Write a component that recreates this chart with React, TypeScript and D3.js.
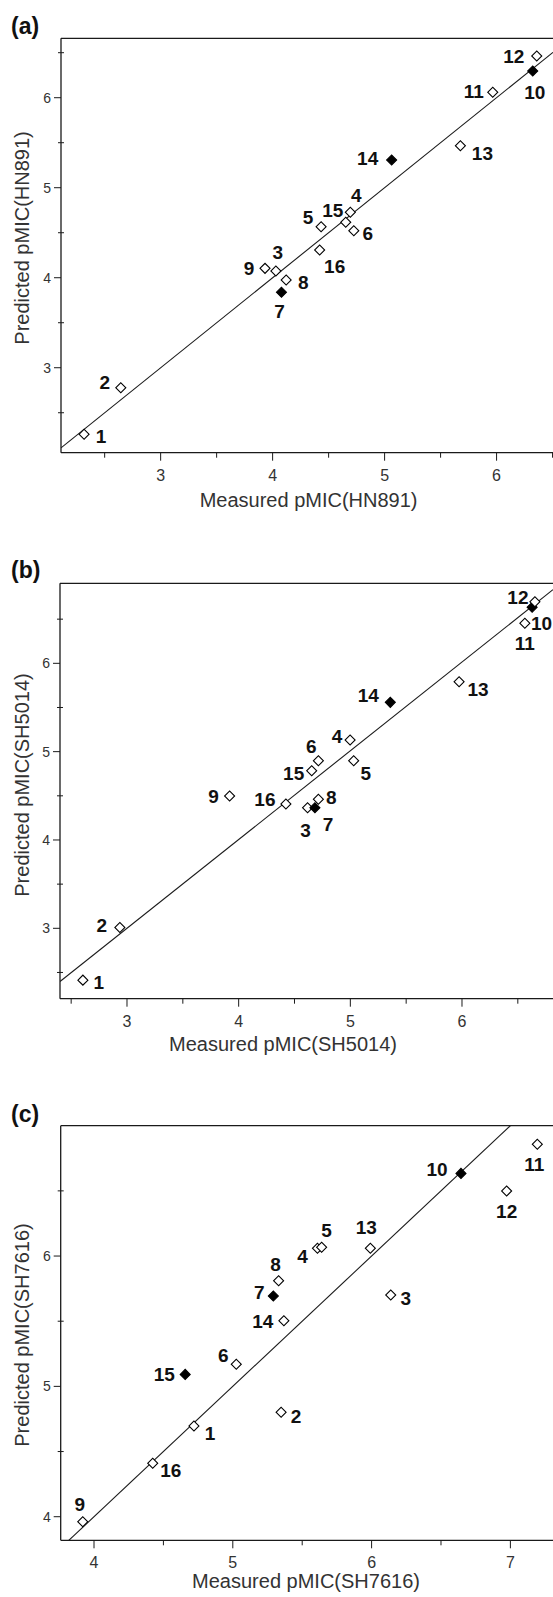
import React from "react";
import * as d3 from "d3";

// ---------- data ----------
const compounds = [1, 2, 3, 4, 5, 6, 7, 8, 9, 10, 11, 12, 13, 14, 15, 16];

// Panel (a) HN891
const measuredHN891 = [2.316, 2.644, 4.029, 4.694, 4.433, 4.725, 4.079, 4.121, 3.932, 6.323, 5.966, 6.359, 5.677, 5.063, 4.653, 4.42];
const predictedHN891 = [2.26, 2.778, 4.074, 4.727, 4.567, 4.522, 3.838, 3.974, 4.104, 6.297, 6.06, 6.463, 5.467, 5.308, 4.616, 4.308];
const testSetHN891 = [7, 10, 14];

// Panel (b) SH5014
const measuredSH5014 = [2.605, 2.936, 4.617, 4.998, 5.03, 4.714, 4.683, 4.714, 3.919, 6.628, 6.563, 6.653, 5.974, 5.358, 4.654, 4.423];
const predictedSH5014 = [2.413, 3.01, 4.365, 5.131, 4.897, 4.897, 4.365, 4.46, 4.497, 6.634, 6.453, 6.698, 5.792, 5.558, 4.784, 4.407];
const testSetSH5014 = [7, 10, 14];

// Panel (c) SH7616
const measuredSH7616 = [4.72, 5.348, 6.138, 5.61, 5.64, 5.025, 5.292, 5.33, 3.919, 6.644, 7.194, 6.973, 5.991, 5.368, 4.657, 4.423];
const predictedSH7616 = [4.696, 4.801, 5.701, 6.059, 6.067, 5.169, 5.693, 5.811, 3.962, 6.634, 6.857, 6.499, 6.059, 5.504, 5.092, 4.41];
const testSetSH7616 = [7, 10, 15];

// regression lines: [slope, intercept]
const fitHN891 = [1.0, 0.0];
const fitSH5014 = [1.005, -0.015];
const fitSH7616 = [1.0, 0.0];

// ticks
const majorTicksA = [3, 4, 5, 6];
const minorTicksA = [2.5, 3.5, 4.5, 5.5, 6.5];
const majorTicksCX = [4, 5, 6, 7];
const minorTicksCX = [4.5, 5.5, 6.5];
const majorTicksCY = [4, 5, 6];
const minorTicksCY = [4.5, 5.5, 6.5];

// ---------- layout (not data) ----------
const labelOffsetsA = [[17, 2], [-16, -6], [2, -19], [6, -17], [-13, -10], [14, 2], [-2, 19], [17, 2], [-16, 0], [2, 21], [-19, -1], [-23, 0], [22, 7], [-24, -2], [-13, -12], [15, 16]];
const labelOffsetsB = [[16, 2], [-18, -2], [-2, 22], [-13, -4], [12, 12], [-7, -15], [13, 16], [13, -2], [-16, 0], [9.5, 16], [0, 20], [-17, -5], [19, 7], [-22, -7], [-18, 2], [-21, -5]];
const labelOffsetsC = [[16, 7], [15, 4], [15, 3], [-15, 8], [5, -17], [-13, -9], [-14, -4], [-3, -17], [-3, -18], [-24, -4], [-3, 20], [0, 20], [-4, -21], [-21, 0], [-21, 0], [18, 7]];

const W = 553;
const H = 1597;
const FONT = "'Liberation Sans', Arial, Helvetica, sans-serif";

type PanelCfg = {
  id: string;
  tag: string;
  xTitle: string;
  yTitle: string;
  xDomain: [number, number];
  yDomain: [number, number];
  left: number;
  right: number;
  top: number;
  bottom: number;
  measured: number[];
  predicted: number[];
  testSet: number[];
  fit: number[];
  offsets: number[][];
  xMajor: number[];
  xMinor: number[];
  yMajor: number[];
  yMinor: number[];
  xTitleX: number;
  xTitleY: number;
  yTitleY: number;
  tagY: number;
};

const panels: PanelCfg[] = [
  {
    id: "a", tag: "(a)", xTitle: "Measured pMIC(HN891)", yTitle: "Predicted pMIC(HN891)",
    xDomain: [2.11, 6.504], yDomain: [2.056, 6.66], left: 61, right: 553, top: 38.3, bottom: 452.7,
    measured: measuredHN891, predicted: predictedHN891, testSet: testSetHN891, fit: fitHN891, offsets: labelOffsetsA,
    xMajor: majorTicksA, xMinor: minorTicksA, yMajor: majorTicksA, yMinor: minorTicksA,
    xTitleX: 308.6, xTitleY: 506.5, yTitleY: 238, tagY: 34,
  },
  {
    id: "b", tag: "(b)", xTitle: "Measured pMIC(SH5014)", yTitle: "Predicted pMIC(SH5014)",
    xDomain: [2.4, 6.815], yDomain: [2.203, 6.906], left: 60, right: 553, top: 583.3, bottom: 998.7,
    measured: measuredSH5014, predicted: predictedSH5014, testSet: testSetSH5014, fit: fitSH5014, offsets: labelOffsetsB,
    xMajor: majorTicksA, xMinor: minorTicksA, yMajor: majorTicksA, yMinor: minorTicksA,
    xTitleX: 283, xTitleY: 1051, yTitleY: 785, tagY: 578,
  },
  {
    id: "c", tag: "(c)", xTitle: "Measured pMIC(SH7616)", yTitle: "Predicted pMIC(SH7616)",
    xDomain: [3.76, 7.307], yDomain: [3.819, 7.0], left: 60.7, right: 553, top: 1125.7, bottom: 1540.3,
    measured: measuredSH7616, predicted: predictedSH7616, testSet: testSetSH7616, fit: fitSH7616, offsets: labelOffsetsC,
    xMajor: majorTicksCX, xMinor: minorTicksCX, yMajor: majorTicksCY, yMinor: minorTicksCY,
    xTitleX: 306, xTitleY: 1588, yTitleY: 1335, tagY: 1122,
  },
];

const diamond = d3.symbol().type(d3.symbolSquare).size(50)() as string;

function Panel({ p }: { p: PanelCfg }) {
  const x = d3.scaleLinear().domain(p.xDomain).range([p.left, p.right]);
  const y = d3.scaleLinear().domain(p.yDomain).range([p.bottom, p.top]);
  const lineGen = d3.line<number>().x((v) => x(v)).y((v) => y(p.fit[0] * v + p.fit[1]));
  const clipId = `clip-${p.id}`;
  const stroke = "#1a1a1a";
  return (
    <g>
      <defs>
        <clipPath id={clipId}>
          <rect x={p.left} y={p.top} width={p.right - p.left} height={p.bottom - p.top} />
        </clipPath>
      </defs>
      {/* frame: top & left & bottom */}
      <line x1={p.left} x2={W} y1={p.top} y2={p.top} stroke={stroke} strokeWidth={1.3} />
      <line x1={p.left} x2={p.left} y1={p.top} y2={p.bottom} stroke={stroke} strokeWidth={1.3} />
      <line x1={p.left} x2={W} y1={p.bottom} y2={p.bottom} stroke={stroke} strokeWidth={1.3} />
      {/* x ticks */}
      {p.xMajor.map((t) => (
        <g key={`xM${t}`}>
          <line x1={x(t)} x2={x(t)} y1={p.bottom} y2={p.bottom + 8} stroke={stroke} strokeWidth={1} />
          <text x={x(t)} y={p.bottom + 28} textAnchor="middle" fontSize={16} fill="#333" fontFamily={FONT}>{t}</text>
        </g>
      ))}
      {p.xMinor.map((t) => (
        <line key={`xm${t}`} x1={x(t)} x2={x(t)} y1={p.bottom} y2={p.bottom + 5} stroke={stroke} strokeWidth={1} />
      ))}
      {/* y ticks */}
      {p.yMajor.map((t) => (
        <g key={`yM${t}`}>
          <line x1={p.left - 7} x2={p.left} y1={y(t)} y2={y(t)} stroke={stroke} strokeWidth={1} />
          <text x={p.left - 10} y={y(t)} dy="0.36em" textAnchor="end" fontSize={14} fill="#333" fontFamily={FONT}>{t}</text>
        </g>
      ))}
      {p.yMinor.map((t) => (
        <line key={`ym${t}`} x1={p.left - 3} x2={p.left + 3} y1={y(t)} y2={y(t)} stroke={stroke} strokeWidth={1} />
      ))}
      {/* regression line */}
      <path d={lineGen(p.xDomain) as string} fill="none" stroke={stroke} strokeWidth={1.1} clipPath={`url(#${clipId})`} />
      {/* points */}
      {compounds.map((c, i) => {
        const filled = p.testSet.includes(c);
        return (
          <path
            key={`pt${c}`}
            d={diamond}
            transform={`translate(${x(p.measured[i])},${y(p.predicted[i])}) rotate(45)`}
            fill={filled ? "#000" : "#fff"}
            stroke="#000"
            strokeWidth={1.1}
          />
        );
      })}
      {/* labels */}
      {compounds.map((c, i) => (
        <text
          key={`lb${c}`}
          x={x(p.measured[i]) + p.offsets[i][0]}
          y={y(p.predicted[i]) + p.offsets[i][1]}
          dy="0.36em"
          textAnchor="middle"
          fontSize={19}
          fontWeight="bold"
          fill="#111"
          fontFamily={FONT}
        >
          {c}
        </text>
      ))}
      {/* titles */}
      <text x={p.xTitleX} y={p.xTitleY} textAnchor="middle" fontSize={20} fill="#333" fontFamily={FONT}>{p.xTitle}</text>
      <text
        transform={`translate(29,${p.yTitleY}) rotate(-90)`}
        textAnchor="middle"
        fontSize={20}
        fill="#333"
        fontFamily={FONT}
      >
        {p.yTitle}
      </text>
      <text x={11} y={p.tagY} fontSize={23} fontWeight="bold" fill="#111" fontFamily={FONT}>{p.tag}</text>
    </g>
  );
}

export default function App() {
  return (
    <svg
      width={W}
      height={H}
      viewBox={`0 0 ${W} ${H}`}
      style={{ position: "absolute", left: 0, top: 0, background: "#fff" }}
    >
      <rect x={0} y={0} width={W} height={H} fill="#fff" />
      {panels.map((p) => (
        <Panel key={p.id} p={p} />
      ))}
    </svg>
  );
}
